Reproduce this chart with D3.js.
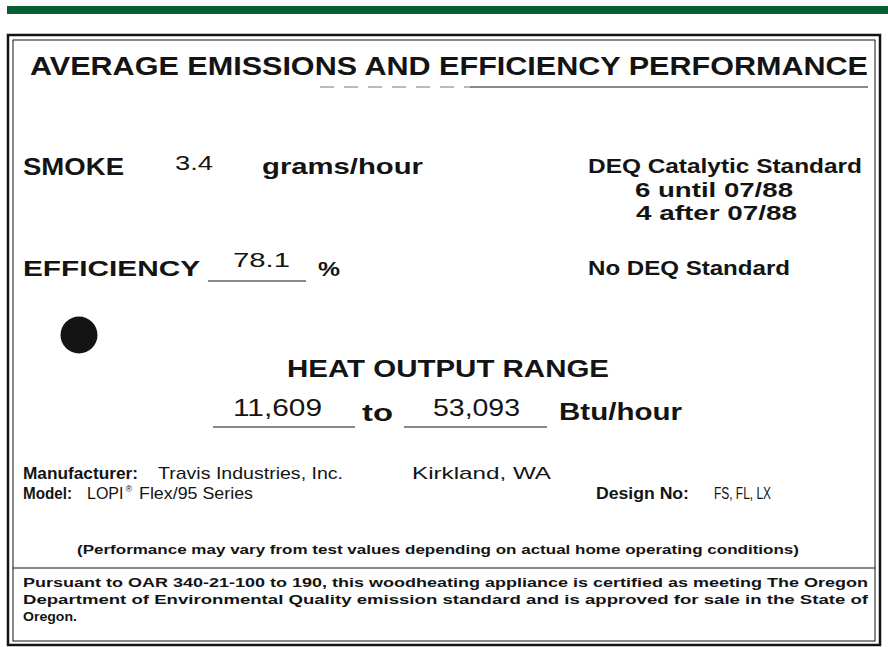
<!DOCTYPE html>
<html>

<head>
	<meta charset="utf-8">
	<style type="text/css">
		body {
			margin: 0;
			background-color: #ffffff;
		}

		text {
			font-family: "Liberation Sans", Arial, Helvetica, sans-serif;
			fill: #141414;
		}
	</style>
	<title>Average Emissions and Efficiency Performance</title>
</head>

<body>
	<div id="label"></div>
	<script src="https://d3js.org/d3.v7.min.js"></script>
	<script>
		// Label values
		var title = "AVERAGE EMISSIONS AND EFFICIENCY PERFORMANCE";
		var smoke = ["SMOKE", "3.4", "grams/hour"];
		var smokeStandard = ["DEQ Catalytic Standard", "6 until 07/88", "4 after 07/88"];
		var efficiency = ["EFFICIENCY", "78.1", "%"];
		var efficiencyStandard = ["No DEQ Standard"];
		var heatTitle = "HEAT OUTPUT RANGE";
		var heatRange = ["11,609", "53,093"];
		var heatWords = ["to", "Btu/hour"];
		var makerLabels = ["Manufacturer:", "Model:", "Design No:"];
		var makerValues = ["Travis Industries, Inc.", "Kirkland, WA", "LOPI", "Flex/95 Series", "FS, FL, LX"];
		var disclaimer = "(Performance may vary from test values depending on actual home operating conditions)";
		var legalLines = [
			"Pursuant to OAR 340-21-100 to 190, this woodheating appliance is certified as meeting The Oregon",
			"Department of Environmental Quality emission standard and is approved for sale in the State of",
			"Oregon."
		];

		const width = 888,
			height = 647,
			ink = "#141414";

		const svg = d3.select("#label").append("svg")
			.attr("width", width)
			.attr("height", height);

		// small helper so every text line is written the same way
		function txt(x, y, str, size, weight, len, adjust) {
			var t = svg.append("text")
				.attr("x", x)
				.attr("y", y)
				.style("font-size", size + "px")
				.style("font-weight", weight)
				.text(str);
			if (len) {
				t.attr("textLength", len).attr("lengthAdjust", adjust || "spacingAndGlyphs");
			}
			return t;
		}

		function rule(x1, x2, y, w) {
			svg.append("line")
				.attr("x1", x1).attr("x2", x2)
				.attr("y1", y).attr("y2", y)
				.style("stroke", ink)
				.style("stroke-width", w);
		}

		// green band on top
		svg.append("rect")
			.attr("x", 7).attr("y", 6)
			.attr("width", width - 7).attr("height", 8)
			.style("fill", "#075e30");

		// double frame
		svg.append("rect")
			.attr("x", 8).attr("y", 35)
			.attr("width", 872).attr("height", 610)
			.style("fill", "none")
			.style("stroke", ink)
			.style("stroke-width", 2.5);
		svg.append("rect")
			.attr("x", 13).attr("y", 40)
			.attr("width", 862).attr("height", 601)
			.style("fill", "none")
			.style("stroke", ink)
			.style("stroke-width", 1);

		// title and its (partly broken) underline
		txt(30, 75, title, 25, "bold", 838);
		svg.append("line")
			.attr("x1", 320).attr("x2", 470)
			.attr("y1", 87).attr("y2", 87)
			.style("stroke", "#777")
			.style("stroke-width", 1)
			.style("stroke-dasharray", "14,10");
		rule(470, 868, 87, 1.2);

		// smoke row
		txt(23, 175, smoke[0], 23, "bold", 101);
		txt(175, 170, smoke[1], 21, "normal", 38);
		txt(262, 174, smoke[2], 22, "bold", 161);

		// standards on the right, three lines through a point scale
		var stdY = d3.scalePoint().domain(d3.range(smokeStandard.length)).range([173, 220]);
		var stdX = [588, 635, 636],
			stdLen = [274, 158, 161];
		smokeStandard.forEach(function(s, i) {
			txt(stdX[i], stdY(i), s, 20, "bold", stdLen[i]);
		});

		// efficiency row
		txt(23, 276, efficiency[0], 22, "bold", 177);
		txt(233, 267, efficiency[1], 21, "normal", 57);
		rule(208, 306, 281, 1);
		txt(318, 276, efficiency[2], 21, "bold", 22);
		txt(588, 275, efficiencyStandard[0], 20, "bold", 202);

		// black dot
		svg.append("circle")
			.attr("cx", 79).attr("cy", 335)
			.attr("r", 18.5)
			.style("fill", ink);

		// heat output
		txt(287, 377, heatTitle, 24, "bold", 322);
		txt(233, 416, heatRange[0], 24, "normal", 89);
		rule(213, 355, 427, 1);
		txt(362, 421, heatWords[0], 24, "bold", 31);
		txt(433, 416, heatRange[1], 24, "normal", 87);
		rule(404, 547, 427, 1);
		txt(559, 420, heatWords[1], 24, "bold", 123);

		// manufacturer block
		txt(23, 479, makerLabels[0], 16, "bold", 115);
		txt(158, 479, makerValues[0], 17, "normal", 185);
		txt(412, 479, makerValues[1], 17, "normal", 139);
		txt(23, 499, makerLabels[1], 16, "bold", 49);
		var lopi = txt(87, 499, makerValues[2], 16, "normal");
		lopi.append("tspan")
			.attr("dx", 2)
			.attr("dy", -7)
			.style("font-size", "9px")
			.text("\u00ae");
		txt(139, 499, makerValues[3], 17, "normal", 114);
		txt(596, 499, makerLabels[2], 16, "bold", 93);
		txt(714, 499, makerValues[4], 16, "normal", 57);

		// disclaimer
		txt(77, 554, disclaimer, 13, "bold", 722);
		rule(13, 875, 568, 1);

		// legal text, justified lines
		var legalLen = [845, 845, 54];
		legalLines.forEach(function(l, i) {
			txt(23, 587 + i * 17, l, 13.5, "bold", legalLen[i]);
		});
	</script>
</body>

</html>
